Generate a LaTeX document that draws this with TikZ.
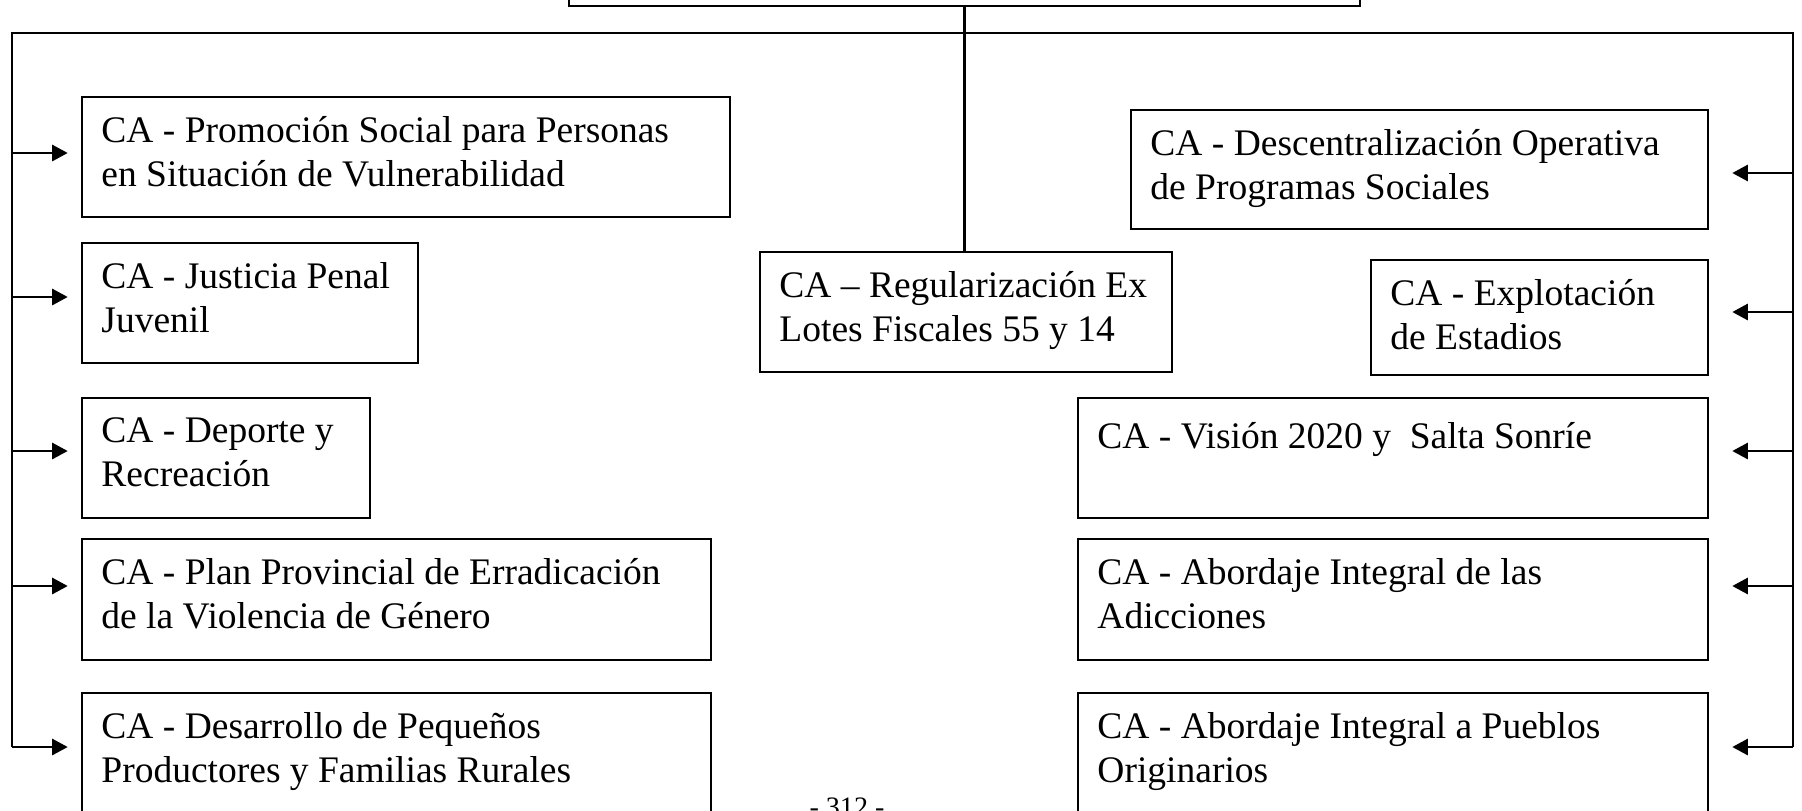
\documentclass[tikz,border=0pt]{standalone}
\usepackage{fontspec}
\setmainfont{Liberation Serif}
\usetikzlibrary{arrows.meta, positioning, calc, fit}

\tikzset{
  cabox/.style={draw, line width=0.75pt, inner sep=0pt},
  catext/.style={anchor=north west, inner sep=0pt, align=left,
    font=\fontsize{12}{14.1}\selectfont, execute at begin node=\strut},
  busline/.style={line width=0.75pt},
  arr/.style={line width=0.75pt, -{Triangle[length=5pt, width=5.2pt]}}
}

\begin{document}
\begin{tikzpicture}[x=0.32pt, y=-0.32pt]
\useasboundingbox (0,0) rectangle (1802,810);

\node[cabox, fit={(569,-60) (1360,6)}] (top) {};
\node[cabox, fit={(760,252) (1172,372)}] (reg) {};
\node[catext] (reg-t) at ($(reg.north west)+(20,20)$) {CA -- Regularización Ex\\Lotes Fiscales 55 y 14};

% left column
\node[cabox, fit={(82,97) (730,217)}] (promo) {};
\node[catext] (promo-t) at ($(promo.north west)+(20,20)$) {CA - Promoción Social para Personas\\en Situación de Vulnerabilidad};
\node[cabox, fit={(82,243) (418,363)}] (justicia) {};
\node[catext] (justicia-t) at ($(justicia.north west)+(20,20)$) {CA - Justicia Penal\\Juvenil};
\node[cabox, fit={(82,398) (370,518)}] (deporte) {};
\node[catext] (deporte-t) at ($(deporte.north west)+(20,20)$) {CA - Deporte y\\Recreación};
\node[cabox, fit={(82,539) (711,660)}] (plan) {};
\node[catext] (plan-t) at ($(plan.north west)+(20,20)$) {CA - Plan Provincial de Erradicación\\de la Violencia de Género};
\node[cabox, fit={(82,693) (711,830)}] (desarrollo) {};
\node[catext] (desarrollo-t) at ($(desarrollo.north west)+(20,20)$) {CA - Desarrollo de Pequeños\\Productores y Familias Rurales};

% right column
\node[cabox, fit={(1131,110) (1708,229)}] (descen) {};
\node[catext] (descen-t) at ($(descen.north west)+(20,20)$) {CA - Descentralización Operativa\\de Programas Sociales};
\node[cabox, fit={(1371,260) (1708,375)}] (explot) {};
\node[catext] (explot-t) at ($(explot.north west)+(20,20)$) {CA - Explotación\\de Estadios};
\node[cabox, fit={(1078,398) (1708,518)}] (vision) {};
\node[catext] (vision-t) at ($(vision.north west)+(20,20)$) {CA - Visión 2020 y \ Salta Sonríe};
\node[cabox, fit={(1078,539) (1708,660)}] (adicc) {};
\node[catext] (adicc-t) at ($(adicc.north west)+(20,20)$) {CA - Abordaje Integral de las\\Adicciones};
\node[cabox, fit={(1078,693) (1708,830)}] (pueblos) {};
\node[catext] (pueblos-t) at ($(pueblos.north west)+(20,20)$) {CA - Abordaje Integral a Pueblos\\Originarios};

\node[anchor=north, inner sep=0pt, font=\fontsize{9}{10}\selectfont] (pg) at (847,797) {- 312 -};

\coordinate (bus) at (965,33);
\coordinate (lb) at (12,747);
\coordinate (rb) at (1793,747);

\draw[busline] (top.south) -- (top.south |- reg.north);
\draw[busline] (lb) -- (lb |- bus) -- (rb |- bus) -- (rb);

\foreach \b/\y in {promo/153, justicia/297, deporte/451, plan/586, desarrollo/747}
  \draw[arr, shorten >=4.2pt] (0,\y -| lb) -- (0,\y -| \b.west);
\foreach \b/\y in {descen/173, explot/312, vision/451, adicc/586, pueblos/747}
  \draw[arr, shorten >=7.4pt] (0,\y -| rb) -- (0,\y -| \b.east);
\end{tikzpicture}
\end{document}
